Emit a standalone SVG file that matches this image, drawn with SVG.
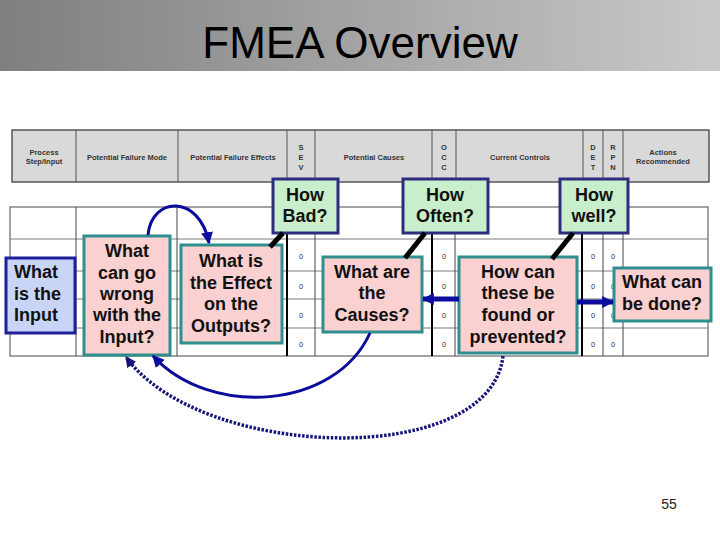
<svg xmlns="http://www.w3.org/2000/svg" width="720" height="540" viewBox="0 0 720 540">
<defs>
<linearGradient id="tg" x1="0" y1="0" x2="1" y2="0">
<stop offset="0" stop-color="#7f7f7f"/>
<stop offset="1" stop-color="#c9c9c9"/>
</linearGradient>
<marker id="ah" markerUnits="userSpaceOnUse" viewBox="0 0 10 10" markerWidth="12" markerHeight="12" refX="9" refY="5" orient="auto">
<path d="M0,0 L10,5 L0,10 z" fill="#0b0b9c"/>
</marker>
<marker id="ahd" markerUnits="userSpaceOnUse" viewBox="0 0 10 10" markerWidth="11" markerHeight="11" refX="9" refY="5" orient="auto">
<path d="M0,0 L10,5 L0,10 z" fill="#14147a"/>
</marker>
<style>
.hd{font-family:"Liberation Sans",Arial,sans-serif;font-size:7.5px;font-weight:bold;fill:#333;text-anchor:middle}
.z{font-family:"Liberation Sans",Arial,sans-serif;font-size:7.5px;fill:#333;text-anchor:middle}
.t{font-family:"Liberation Sans",Arial,sans-serif;font-size:18px;font-weight:bold;fill:#111;text-anchor:middle}
.ts{font-family:"Liberation Sans",Arial,sans-serif;font-size:18px;font-weight:bold;fill:#111;text-anchor:start}
.pink{fill:#fbd0d0;stroke:#2f8f8f;stroke-width:3}
.green{fill:#c9eecb;stroke:#2d2d80;stroke-width:3}
.blue{fill:#c9d5f7;stroke:#1f1f99;stroke-width:3}
.hl{stroke:#7a7a7a;stroke-width:1}
.vl{stroke:#444;stroke-width:1}
.vk{stroke:#000;stroke-width:2}
.hv{stroke:#555;stroke-width:1}
.ptr{stroke:#000;stroke-width:5}
.arr{fill:none;stroke:#0b0b9c;stroke-width:3}
.arrk{fill:none;stroke:#0b0b9c;stroke-width:5}
.dot{fill:none;stroke:#14147a;stroke-width:3.5;stroke-dasharray:2.5 1.6}
</style>
</defs>
<rect x="0" y="0" width="720" height="540" fill="#fff"/>
<g id="title">
<rect x="0" y="0" width="720" height="71" fill="url(#tg)"/>
<text x="360" y="58" font-family="Liberation Sans,Arial,sans-serif" font-size="44" fill="#000" text-anchor="middle">FMEA Overview</text>
</g>
<g id="header-table">
<rect x="12" y="130" width="697" height="52" fill="#d9d9d9" stroke="#555" stroke-width="1.5"/>
<line class="hv" x1="76" y1="130" x2="76" y2="182"/>
<line class="hv" x1="178" y1="130" x2="178" y2="182"/>
<line class="hv" x1="287" y1="130" x2="287" y2="182"/>
<line class="hv" x1="315" y1="130" x2="315" y2="182"/>
<line class="hv" x1="432" y1="130" x2="432" y2="182"/>
<line class="hv" x1="456" y1="130" x2="456" y2="182"/>
<line class="hv" x1="583" y1="130" x2="583" y2="182"/>
<line class="hv" x1="603" y1="130" x2="603" y2="182"/>
<line class="hv" x1="623" y1="130" x2="623" y2="182"/>
<text class="hd" x="44" y="155">Process</text>
<text class="hd" x="44" y="164">Step/Input</text>
<text class="hd" x="127" y="160">Potential Failure Mode</text>
<text class="hd" x="233" y="160">Potential Failure Effects</text>
<text class="hd" x="301" y="150">S</text>
<text class="hd" x="301" y="160">E</text>
<text class="hd" x="301" y="170">V</text>
<text class="hd" x="374" y="160">Potential Causes</text>
<text class="hd" x="444" y="150">O</text>
<text class="hd" x="444" y="160">C</text>
<text class="hd" x="444" y="170">C</text>
<text class="hd" x="520" y="160">Current Controls</text>
<text class="hd" x="593" y="150">D</text>
<text class="hd" x="593" y="160">E</text>
<text class="hd" x="593" y="170">T</text>
<text class="hd" x="613" y="150">R</text>
<text class="hd" x="613" y="160">P</text>
<text class="hd" x="613" y="170">N</text>
<text class="hd" x="663" y="155">Actions</text>
<text class="hd" x="663" y="164">Recommended</text>
</g>
<g id="body-table">
<rect x="10" y="207" width="698" height="149" fill="#fff" stroke="#666" stroke-width="1.2"/>
<line class="hl" x1="10" y1="239" x2="708" y2="239"/>
<line class="hl" x1="10" y1="271" x2="708" y2="271"/>
<line class="hl" x1="10" y1="299" x2="708" y2="299"/>
<line class="hl" x1="10" y1="328" x2="708" y2="328"/>
<line class="vl" x1="76" y1="207" x2="76" y2="356"/>
<line class="vl" x1="177" y1="207" x2="177" y2="356"/>
<line class="vl" x1="315" y1="207" x2="315" y2="356"/>
<line class="vl" x1="455" y1="207" x2="455" y2="356"/>
<line class="vl" x1="603" y1="207" x2="603" y2="356"/>
<line class="vl" x1="623" y1="207" x2="623" y2="356"/>
<line class="vk" x1="287" y1="207" x2="287" y2="356"/>
<line class="vk" x1="432" y1="207" x2="432" y2="356"/>
<line class="vk" x1="582" y1="207" x2="582" y2="356"/>
<text class="z" x="301" y="259">0</text><text class="z" x="301" y="289">0</text><text class="z" x="301" y="318">0</text><text class="z" x="301" y="347">0</text>
<text class="z" x="444" y="259">0</text><text class="z" x="444" y="289">0</text><text class="z" x="444" y="318">0</text><text class="z" x="444" y="347">0</text>
<text class="z" x="593" y="259">0</text><text class="z" x="593" y="289">0</text><text class="z" x="593" y="318">0</text><text class="z" x="593" y="347">0</text>
<text class="z" x="613" y="259">0</text><text class="z" x="613" y="289">0</text><text class="z" x="613" y="318">0</text><text class="z" x="613" y="347">0</text>
</g>
<g id="node-input">
<rect class="blue" x="6" y="258" width="69" height="75"/>
<text class="ts" x="14" y="278">What</text>
<text class="ts" x="14" y="300">is the</text>
<text class="ts" x="14" y="321">Input</text>
</g>
<g id="node-wrong">
<rect class="pink" x="84" y="236" width="86" height="119"/>
<text class="t" x="127" y="257">What</text>
<text class="t" x="127" y="279">can go</text>
<text class="t" x="127" y="300">wrong</text>
<text class="t" x="127" y="321">with the</text>
<text class="t" x="127" y="343">Input?</text>
</g>
<g id="node-effect">
<rect class="pink" x="181" y="245" width="101" height="98"/>
<text class="t" x="231" y="267">What is</text>
<text class="t" x="231" y="289">the Effect</text>
<text class="t" x="231" y="310">on the</text>
<text class="t" x="231" y="332">Outputs?</text>
</g>
<g id="node-causes">
<rect class="pink" x="323" y="257" width="99" height="75"/>
<text class="t" x="372" y="278">What are</text>
<text class="t" x="372" y="299">the</text>
<text class="t" x="372" y="321">Causes?</text>
</g>
<g id="node-found">
<rect class="pink" x="459" y="257" width="118" height="96"/>
<text class="t" x="518" y="278">How can</text>
<text class="t" x="518" y="299">these be</text>
<text class="t" x="518" y="321">found or</text>
<text class="t" x="518" y="343">prevented?</text>
</g>
<g id="node-done">
<rect class="pink" x="614" y="268" width="97" height="53"/>
<text class="t" x="662" y="288">What can</text>
<text class="t" x="662" y="310">be done?</text>
</g>
<g id="node-bad">
<rect class="green" x="273" y="179" width="65" height="54"/>
<text class="t" x="305" y="201">How</text>
<text class="t" x="305" y="222">Bad?</text>
</g>
<g id="node-often">
<rect class="green" x="403" y="179" width="85" height="54"/>
<text class="t" x="445" y="201">How</text>
<text class="t" x="445" y="222">Often?</text>
</g>
<g id="node-well">
<rect class="green" x="560" y="179" width="68" height="54"/>
<text class="t" x="594" y="201">How</text>
<text class="t" x="594" y="222">well?</text>
</g>
<g id="connectors">
<line class="ptr" x1="283" y1="233" x2="270" y2="247"/>
<line class="ptr" x1="425" y1="233" x2="405" y2="258"/>
<line class="ptr" x1="573" y1="233" x2="552" y2="259"/>
<path class="arr" d="M148,235 C152,195 200,195 209,243" marker-end="url(#ah)"/>
<line class="arrk" x1="459" y1="299" x2="423" y2="299" marker-end="url(#ah)"/>
<line class="arrk" x1="577" y1="302" x2="613" y2="302" marker-end="url(#ah)"/>
<path class="arr" d="M370,333 C335,410 210,418 153,356" marker-end="url(#ah)"/>
<path class="dot" d="M503,356 C490,470 200,460 126,357" marker-end="url(#ahd)"/>
</g>
<text x="669" y="509" font-family="Liberation Sans,Arial,sans-serif" font-size="14" fill="#222" text-anchor="middle">55</text>
</svg>
